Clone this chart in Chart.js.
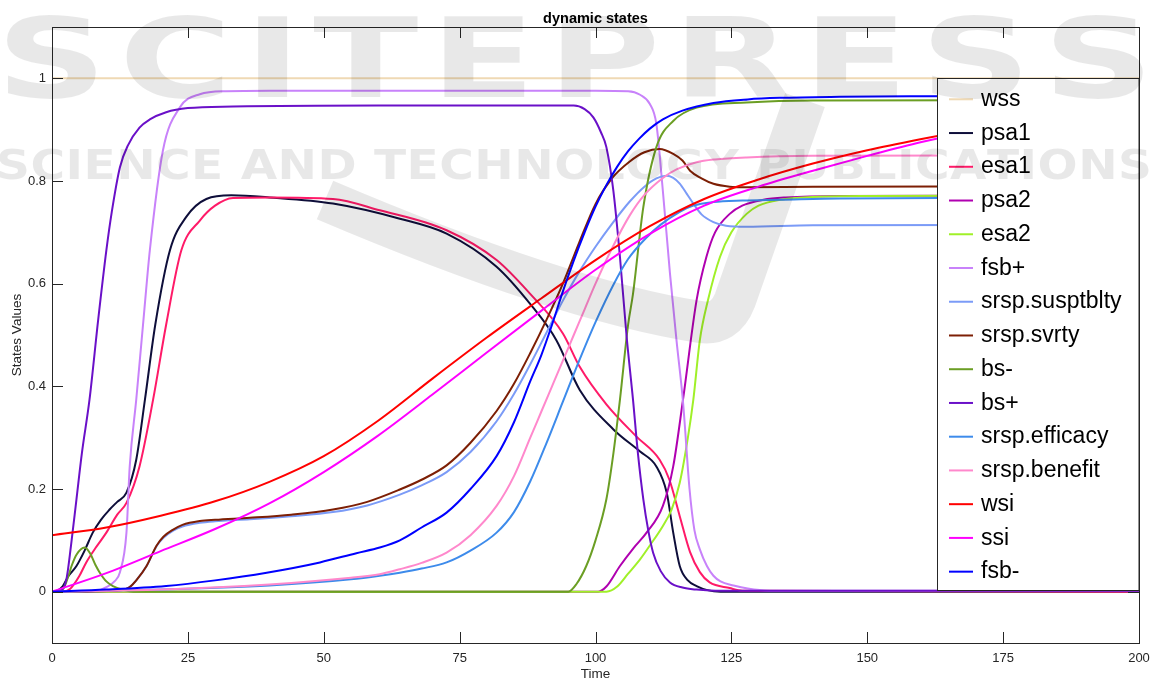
<!DOCTYPE html>
<html>
<head>
<meta charset="utf-8">
<script src="https://cdn.jsdelivr.net/npm/chart.js@4.4.1/dist/chart.umd.min.js"></script>
<style>
  html, body { margin: 0; padding: 0; background: #fff; }
  #wrap { width: 1150px; height: 680px; }
</style>
</head>
<body>
<div id="wrap"><canvas id="chart-dynamic-states" width="1150" height="680"></canvas></div>
<script>
// series names, in plotting order (later ones are drawn on top)
const seriesNames = ['wss', 'psa1', 'esa1', 'psa2', 'esa2', 'fsb+', 'srsp.susptblty', 'srsp.svrty',
    'bs-', 'bs+', 'srsp.efficacy', 'srsp.benefit', 'wsi', 'ssi', 'fsb-'];

const xTicks = [0, 25, 50, 75, 100, 125, 150, 175, 200];
const yTicks = [0, 0.2, 0.4, 0.6, 0.8, 1];

// time / value pairs
const tWss = [0, 200];
const wss = [1, 1];

const tPsa1 = [0, 1, 2, 3, 4.5, 6, 7.5, 9, 10.6, 12, 13.7, 15.5, 17.1, 19, 21.7, 24.7, 28.4, 33, 40, 51.7, 64, 72.6, 81.8, 87.9, 92.8, 97.1, 103.3, 108.2, 111.2, 113.1, 114.3, 115.5, 117, 118.6, 120.6, 123, 200];
const psa1 = [0, 0.002, 0.011, 0.03, 0.05, 0.08, 0.115, 0.14, 0.16, 0.175, 0.193, 0.257, 0.374, 0.52, 0.665, 0.73, 0.765, 0.772, 0.768, 0.756, 0.7265, 0.6975, 0.633, 0.5615, 0.49, 0.393, 0.316, 0.273, 0.244, 0.193, 0.115, 0.05, 0.022, 0.011, 0.003, 0, 0];

const tEsa1 = [0, 2, 3.3, 5, 6.3, 8, 10, 12, 13.7, 16.1, 18.6, 21, 23.8, 27.2, 30, 33.3, 40, 51.7, 60.3, 72.6, 81.8, 87.9, 94, 97.1, 102, 107.5, 111.8, 113.6, 115.5, 117.4, 119.2, 121, 124.7, 127, 200];
const esa1 = [0, 0, 0.005, 0.03, 0.057, 0.085, 0.115, 0.15, 0.173, 0.244, 0.374, 0.52, 0.665, 0.723, 0.752, 0.767, 0.768, 0.765, 0.743, 0.704, 0.646, 0.581, 0.503, 0.438, 0.365, 0.3025, 0.257, 0.218, 0.147, 0.077, 0.038, 0.018, 0.007, 0.002, 0];

const tPsa2 = [0, 100.5, 102, 104.5, 107, 109.4, 112.4, 114.3, 116.1, 118.6, 120.4, 122, 124.7, 127, 130.9, 135, 145, 200];
const psa2 = [0, 0, 0.01, 0.05, 0.085, 0.115, 0.167, 0.244, 0.374, 0.568, 0.652, 0.7, 0.736, 0.752, 0.7635, 0.768, 0.771, 0.772];

const tEsa2 = [0, 102, 104, 106, 108.2, 110, 112.4, 114, 115.5, 117, 118, 119.2, 120.7, 122.9, 125, 127.8, 130, 134, 140, 150, 200];
const esa2 = [0, 0, 0.01, 0.035, 0.063, 0.09, 0.128, 0.16, 0.212, 0.3, 0.374, 0.49, 0.568, 0.652, 0.7, 0.736, 0.752, 0.7635, 0.769, 0.771, 0.772];

const tFsbPlus = [0, 8, 10, 11.5, 12.5, 13.7, 14.3, 15.5, 17, 18, 20.4, 23.5, 27.2, 32, 40, 60, 100, 106, 108.2, 110, 111.2, 112.4, 113.7, 114.9, 116.1, 117.3, 118.2, 119.2, 120.5, 121.7, 123, 125.4, 128, 132, 200];
const fsbPlus = [0, 0.001, 0.009, 0.02, 0.038, 0.115, 0.244, 0.374, 0.55, 0.665, 0.859, 0.943, 0.969, 0.975, 0.976, 0.976, 0.976, 0.975, 0.968, 0.95, 0.911, 0.78, 0.62, 0.49, 0.37, 0.2, 0.12, 0.0825, 0.05, 0.031, 0.02, 0.012, 0.006, 0.002, 0.002];

const tSusptblty = [0, 12, 13, 14.3, 15.5, 17.4, 19.2, 20.5, 22.3, 24, 27.2, 30, 36.4, 44, 51.7, 58, 64, 68, 72.6, 77, 81.8, 85, 88, 91, 94, 97, 100, 103, 106.3, 109, 111.2, 113.1, 114.3, 115.5, 116.8, 118, 119.5, 121.7, 124, 127.8, 140, 200];
const susptblty = [0, 0.002, 0.003, 0.009, 0.022, 0.05, 0.088, 0.105, 0.119, 0.127, 0.134, 0.137, 0.141, 0.147, 0.155, 0.168, 0.189, 0.207, 0.233, 0.272, 0.332, 0.385, 0.443, 0.505, 0.567, 0.623, 0.672, 0.716, 0.76, 0.789, 0.805, 0.81, 0.806, 0.795, 0.775, 0.756, 0.735, 0.72, 0.713, 0.711, 0.714, 0.715];

const tSvrty = [0, 12, 13, 14.3, 15.5, 17.4, 19.2, 20.5, 22.3, 24, 27.2, 30, 36.4, 44, 51.7, 58, 64, 68, 72.6, 77, 81.8, 85, 88, 91, 94, 97, 100, 103, 106.3, 109, 111.8, 114.3, 116, 117.4, 119.5, 121.7, 124.7, 127.8, 140, 200];
const svrty = [0, 0.002, 0.003, 0.009, 0.022, 0.05, 0.089, 0.107, 0.121, 0.13, 0.1375, 0.14, 0.144, 0.15, 0.16, 0.175, 0.199, 0.218, 0.246, 0.29, 0.352, 0.405, 0.465, 0.53, 0.6, 0.68, 0.755, 0.805, 0.838, 0.856, 0.8625, 0.853, 0.84, 0.82, 0.805, 0.7945, 0.789, 0.788, 0.789, 0.79];

const tBsMinus = [0, 2, 3, 3.6, 4.5, 6, 7, 8, 8.8, 10, 11.2, 13, 15, 95, 96.5, 98.3, 100, 102, 103.3, 104.5, 106, 106.9, 108.8, 111.2, 114.3, 118.6, 127.8, 140, 200];
const bsMinus = [0, 0.005, 0.03, 0.05, 0.072, 0.086, 0.075, 0.052, 0.037, 0.02, 0.011, 0.004, 0, 0, 0.015, 0.05, 0.1, 0.18, 0.27, 0.374, 0.52, 0.58, 0.749, 0.866, 0.917, 0.943, 0.953, 0.957, 0.958];

const tBsPlus = [0, 1.5, 2.65, 3.5, 4.5, 5.5, 6.9, 8.5, 10, 11, 12.5, 14, 16.1, 18, 21, 25, 33.3, 60, 96, 98, 99.6, 101, 102, 103.3, 104.5, 105.7, 106.9, 107.8, 108.8, 109.7, 110.6, 112, 113.7, 116, 118.6, 122, 200];
const bsPlus = [0, 0.002, 0.024, 0.09, 0.18, 0.27, 0.374, 0.53, 0.665, 0.74, 0.827, 0.87, 0.904, 0.92, 0.934, 0.942, 0.945, 0.947, 0.947, 0.94, 0.924, 0.895, 0.866, 0.78, 0.652, 0.5, 0.374, 0.27, 0.18, 0.12, 0.076, 0.04, 0.018, 0.008, 0.004, 0.002, 0.002];

const tEfficacy = [0, 20, 40, 55, 60.3, 64, 68, 72.6, 77, 81.8, 85, 88, 91, 94, 97, 100, 103.3, 106, 109.4, 112, 115.5, 118, 121.7, 127, 133.9, 145, 200];
const efficacy = [0, 0.004, 0.012, 0.024, 0.031, 0.037, 0.045, 0.057, 0.08, 0.115, 0.155, 0.215, 0.29, 0.37, 0.45, 0.525, 0.598, 0.648, 0.69, 0.715, 0.74, 0.752, 0.759, 0.762, 0.7635, 0.766, 0.768];

const tBenefit = [0, 20, 40, 55, 60.3, 64, 68, 72.6, 77, 81.8, 85, 88, 90, 92, 94, 96, 98, 100, 103, 106.3, 109, 112.4, 115, 118.6, 122, 127.8, 140, 200];
const benefit = [0, 0.004, 0.014, 0.027, 0.034, 0.0437, 0.056, 0.076, 0.11, 0.167, 0.225, 0.3, 0.35, 0.4, 0.45, 0.5, 0.55, 0.6, 0.668, 0.733, 0.773, 0.806, 0.823, 0.8365, 0.842, 0.846, 0.849, 0.85];

const tWsi = [0, 10, 20, 30, 40, 50, 60, 70, 80, 90, 100, 110, 120, 130, 140, 150, 160, 170, 180, 190, 200];
const wsi = [0.11, 0.125, 0.148, 0.176, 0.214, 0.264, 0.333, 0.415, 0.495, 0.571, 0.646, 0.712, 0.765, 0.803, 0.834, 0.86, 0.882, 0.902, 0.92, 0.936, 0.95];

const tSsi = [0, 10, 20, 30, 40, 50, 60, 70, 80, 90, 100, 110, 120, 130, 140, 150, 160, 170, 180, 190, 200];
const ssi = [0, 0.036, 0.079, 0.122, 0.172, 0.233, 0.304, 0.384, 0.466, 0.547, 0.627, 0.697, 0.752, 0.789, 0.82, 0.849, 0.876, 0.898, 0.917, 0.934, 0.948];

const tFsbMinus = [0, 10, 21, 30, 39.5, 49.3, 56, 60.3, 64, 68, 72.6, 77, 81.8, 85, 88, 90, 92, 94, 96, 98, 100, 102, 104, 106, 108, 110, 112.4, 116, 121.7, 128, 133.9, 145, 160, 200];
const fsbMinus = [0, 0.004, 0.011, 0.022, 0.037, 0.057, 0.075, 0.086, 0.1, 0.125, 0.154, 0.2, 0.264, 0.33, 0.41, 0.46, 0.52, 0.585, 0.645, 0.7, 0.75, 0.792, 0.828, 0.858, 0.882, 0.902, 0.92, 0.937, 0.952, 0.959, 0.962, 0.964, 0.965, 0.966];

const seriesTimes = [tWss, tPsa1, tEsa1, tPsa2, tEsa2, tFsbPlus, tSusptblty, tSvrty, tBsMinus, tBsPlus, tEfficacy, tBenefit, tWsi, tSsi, tFsbMinus];
const seriesValues = [wss, psa1, esa1, psa2, esa2, fsbPlus, susptblty, svrty, bsMinus, bsPlus, efficacy, benefit, wsi, ssi, fsbMinus];

const lineColors = ['#EFD9B4', '#0E0E3A', '#FF1A68', '#B000B0', '#A0F028', '#C882FA', '#7B9BF7', '#7D1F05',
    '#6B9E24', '#6A10C8', '#3D8BEB', '#FF88CC', '#FF0000', '#FF00FF', '#0000FF'];

const AX = '#262626';
const FONT = '"Liberation Sans", Arial, Helvetica, sans-serif';

// inward ticks on all four sides, box frame, legend, titles
const matlabAxes = {
    id: 'matlabAxes',
    afterDatasetsDraw(chart) {
        const { ctx, chartArea: a, scales } = chart;
        ctx.save();
        ctx.strokeStyle = AX;
        ctx.lineWidth = 1;
        ctx.beginPath();
        scales.x.ticks.forEach(t => {
            const px = Math.round(scales.x.getPixelForValue(t.value)) + 0.5;
            ctx.moveTo(px, a.bottom); ctx.lineTo(px, a.bottom - 11);
            ctx.moveTo(px, a.top); ctx.lineTo(px, a.top + 11);
        });
        scales.y.ticks.forEach(t => {
            const py = Math.round(scales.y.getPixelForValue(t.value)) + 0.5;
            ctx.moveTo(a.left, py); ctx.lineTo(a.left + 11, py);
            ctx.moveTo(a.right, py); ctx.lineTo(a.right - 11, py);
        });
        ctx.stroke();

        // legend box
        const lx = 937.5, ly = 78.5, lb = 590.5, rowH = 33.74;
        ctx.fillStyle = '#fff';
        ctx.fillRect(lx, ly, a.right - lx, lb - ly);
        ctx.strokeStyle = AX;
        ctx.strokeRect(lx, ly, a.right - lx, lb - ly);
        ctx.font = '23px ' + FONT;
        ctx.textBaseline = 'alphabetic';
        ctx.textAlign = 'left';
        chart.data.datasets.forEach((ds, i) => {
            const ry = 99.3 + i * rowH;
            ctx.strokeStyle = ds.borderColor;
            ctx.lineWidth = 2;
            ctx.beginPath();
            ctx.moveTo(949, ry); ctx.lineTo(973, ry);
            ctx.stroke();
            ctx.fillStyle = '#000';
            ctx.fillText(ds.label, 981, ry + 6.6);
        });

        // frame
        ctx.strokeStyle = AX;
        ctx.lineWidth = 1;
        ctx.strokeRect(Math.round(a.left) + 0.5, Math.round(a.top) + 0.5,
            Math.round(a.right - a.left), Math.round(a.bottom - a.top));

        // titles
        ctx.fillStyle = '#000';
        ctx.textAlign = 'center';
        ctx.font = 'bold 14.5px ' + FONT;
        ctx.fillText('dynamic states', (a.left + a.right) / 2, 22.5);
        ctx.fillStyle = AX;
        ctx.font = '13.5px ' + FONT;
        ctx.textBaseline = 'middle';
        ctx.fillText('Time', (a.left + a.right) / 2, 674);
        ctx.translate(17.5, (a.top + a.bottom) / 2);
        ctx.rotate(-Math.PI / 2);
        ctx.fillText('States Values', 0, 0);
        ctx.restore();
    }
};

// faint publisher watermark laid over the whole picture
function spreadText(ctx, text, x0, x1, baseline, sx) {
    const chars = text.split('');
    const widths = chars.map(c => ctx.measureText(c).width * sx);
    const total = widths.reduce((s, w) => s + w, 0);
    const gap = (x1 - x0 - total) / (chars.length - 1);
    let x = x0;
    chars.forEach((c, i) => {
        ctx.save();
        ctx.translate(x, baseline);
        ctx.scale(sx, 1);
        ctx.fillText(c, 0, 0);
        ctx.restore();
        x += widths[i] + gap;
    });
}

const watermark = {
    id: 'watermark',
    afterDraw(chart) {
        const ctx = chart.ctx;
        ctx.save();
        ctx.fillStyle = 'rgba(0,0,0,0.09)';
        ctx.strokeStyle = 'rgba(0,0,0,0.09)';
        ctx.textAlign = 'left';
        ctx.textBaseline = 'alphabetic';
        ctx.font = 'bold 110px "DejaVu Sans", sans-serif';
        spreadText(ctx, 'SCITEPRESS', -4, 1154, 97, 1.4);
        ctx.font = 'bold 41px "DejaVu Sans", sans-serif';
        spreadText(ctx, 'SCIENCE AND TECHNOLOGY PUBLICATIONS', -4, 1152, 179, 1.15);
        // the big "V" swoosh of the logo
        ctx.lineWidth = 42;
        ctx.lineJoin = 'round';
        ctx.lineCap = 'butt';
        ctx.beginPath();
        ctx.moveTo(325, 200);
        ctx.quadraticCurveTo(560, 300, 700, 322);
        ctx.quadraticCurveTo(725, 326, 735, 300);
        ctx.lineTo(805, 100);
        ctx.stroke();
        ctx.restore();
    }
};

const datasets = seriesNames.map((name, i) => ({
    label: name,
    data: seriesTimes[i].map((t, k) => ({ x: t, y: seriesValues[i][k] })),
    borderColor: lineColors[i],
    backgroundColor: lineColors[i],
    borderWidth: 2,
    pointRadius: 0,
    fill: false,
    cubicInterpolationMode: 'monotone',
    order: seriesNames.length - i,
}));

new Chart(document.getElementById('chart-dynamic-states'), {
    type: 'line',
    data: { datasets },
    options: {
        responsive: false,
        animation: false,
        devicePixelRatio: 1,
        layout: { padding: { left: 0, right: 11, top: 27, bottom: 0 } },
        scales: {
            x: {
                type: 'linear',
                min: 0, max: 200,
                afterFit: s => { s.height = 37; s.paddingLeft = 0; s.paddingRight = 0; },
                afterBuildTicks: s => { s.ticks = xTicks.map(v => ({ value: v })); },
                ticks: { color: AX, font: { size: 13, family: FONT }, padding: 8, maxRotation: 0 },
                grid: { display: false, drawTicks: false },
                border: { display: false },
            },
            y: {
                type: 'linear',
                min: -0.1, max: 1.1,
                afterFit: s => { s.width = 52; s.paddingTop = 0; s.paddingBottom = 0; },
                afterBuildTicks: s => { s.ticks = yTicks.map(v => ({ value: v })); },
                ticks: {
                    color: AX, font: { size: 13, family: FONT }, padding: 6,
                    callback: v => String(Math.round(v * 10) / 10)
                },
                grid: { display: false, drawTicks: false },
                border: { display: false },
            }
        },
        plugins: {
            legend: { display: false },
            tooltip: { enabled: false },
        }
    },
    plugins: [matlabAxes, watermark]
});
</script>
</body>
</html>
